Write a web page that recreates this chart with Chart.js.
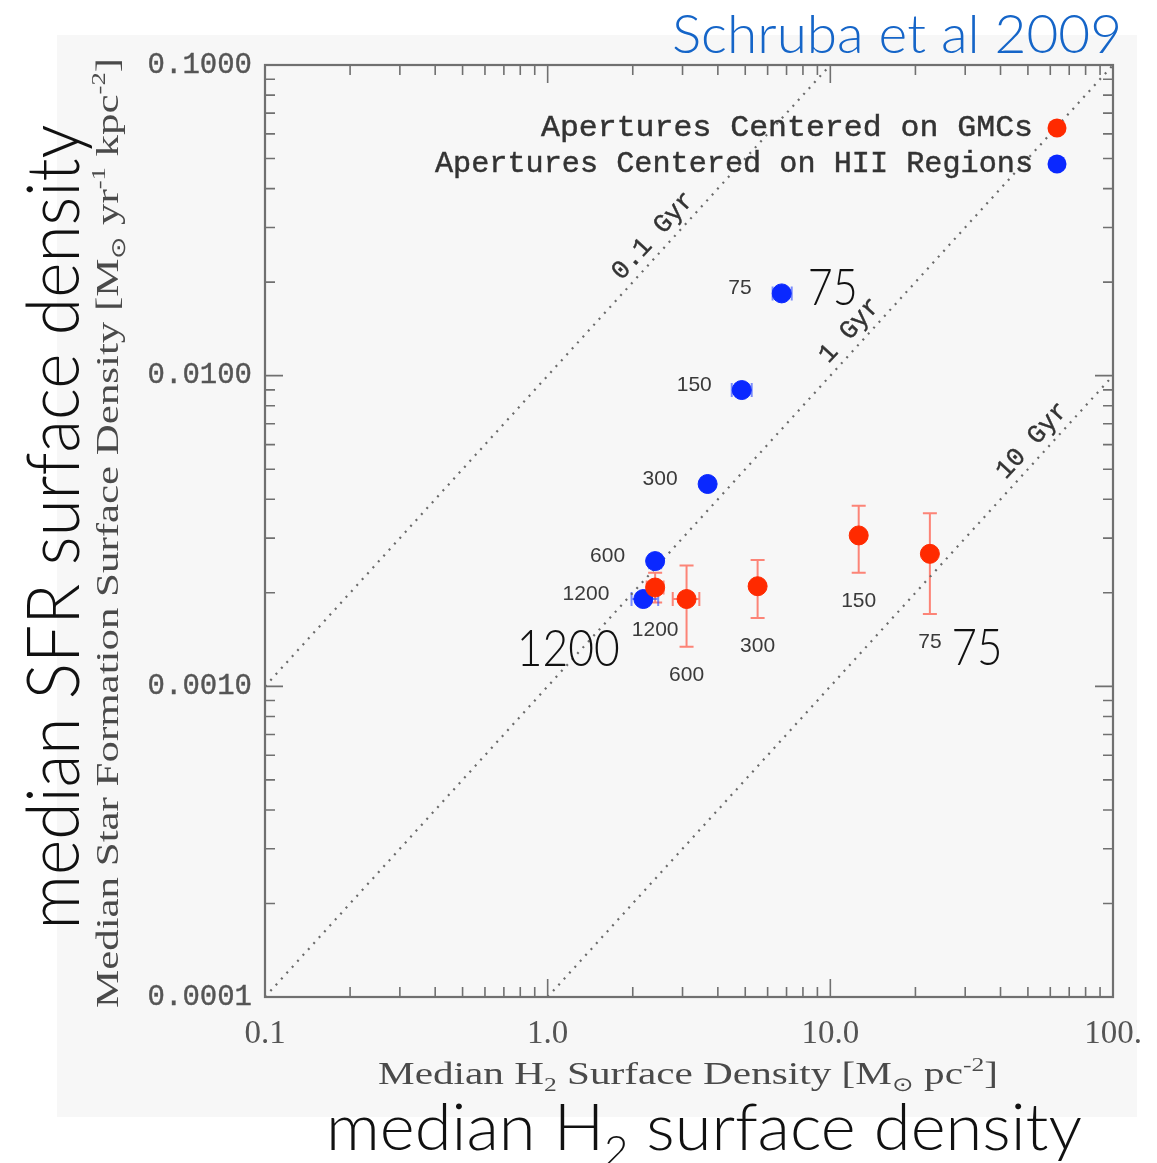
<!DOCTYPE html>
<html>
<head>
<meta charset="utf-8">
<title>Schruba et al 2009</title>
<script src="https://cdn.jsdelivr.net/npm/chart.js@4.4.1/dist/chart.umd.min.js"></script>
<style>
  html, body { margin: 0; padding: 0; background: #fff; }
  #wrap { width: 1157px; height: 1163px; }
</style>
</head>
<body>
<div id="wrap"><canvas id="sfrChart" width="1157" height="1163"></canvas></div>
<script>
// apertures centred on GMCs: aperture size (pc), median H2 and SFR surface densities, error bars
const gmcSizes = ['1200', '600', '300', '150', '75'];
const gmcH2 = [2.40, 3.10, 5.53, 12.6, 22.5];
const gmcSFR = [0.00208, 0.00191, 0.00210, 0.00306, 0.00267];
const gmcSFRLow = [0.00186, 0.00134, 0.00166, 0.00232, 0.00171];
const gmcSFRHigh = [0.00232, 0.00245, 0.00255, 0.00381, 0.00361];
const gmcH2Low = [2.24, 2.77, null, null, null];
const gmcH2High = [2.57, 3.44, null, null, null];

// apertures centred on HII regions
const hiiSizes = ['75', '150', '300', '600', '1200'];
const hiiH2 = [6.73, 4.86, 3.68, 2.40, 2.18];
const hiiSFR = [0.0184, 0.00899, 0.00448, 0.00253, 0.00191];
const hiiSFRLow = [null, null, null, 0.00240, null];
const hiiSFRHigh = [null, null, null, 0.00265, null];
const hiiH2Low = [6.25, 4.48, null, null, 1.98];
const hiiH2High = [7.30, 5.27, null, null, 2.46];

// lines of constant depletion time
const gyrLabels = ['0.1 Gyr', '1 Gyr', '10 Gyr'];
const gyrLineH2 = [[0.1, 10], [0.1, 100], [1, 100]];
const gyrLineSFR = [[0.001, 0.1], [0.0001, 0.1], [0.0001, 0.01]];

// axis ticks
const xTickValues = [0.1, 1, 10, 100];
const xTickLabels = ['0.1', '1.0', '10.0', '100.'];
const yTickValues = [0.0001, 0.001, 0.01, 0.1];
const yTickLabels = ['0.0001', '0.0010', '0.0100', '0.1000'];

const RED = '#ff2a00';
const BLUE = '#0a28ff';

// draws a line of text made of runs (normal / sub / sup), squeezed to a given width
function richText(ctx, runs, cx, baseY, targetW, size, family, color, weight) {
  weight = weight || 'normal';
  const parts = runs.map(r => {
    const s = (r.sub || r.sup) ? size * 0.62 : size;
    ctx.font = weight + ' ' + s + 'px ' + family;
    return { t: r.t, s: s, dy: r.sub ? size * 0.22 : (r.sup ? -size * 0.42 : 0), w: ctx.measureText(r.t).width };
  });
  const total = parts.reduce((a, p) => a + p.w, 0);
  const sx = targetW ? targetW / total : 1;
  ctx.save();
  ctx.translate(cx, baseY);
  ctx.scale(sx, 1);
  ctx.fillStyle = color;
  ctx.textAlign = 'left';
  ctx.textBaseline = 'alphabetic';
  let x = -total / 2;
  parts.forEach(p => {
    ctx.font = weight + ' ' + p.s + 'px ' + family;
    ctx.fillText(p.t, x, p.dy);
    x += p.w;
  });
  ctx.restore();
}

// typewriter text with a slightly heavier stroke
function heavyText(ctx, text, x, y) {
  ctx.fillText(text, x, y);
  ctx.strokeText(text, x, y);
}

// background: white page with a light grey panel
const panel = {
  id: 'panel',
  beforeDraw(chart) {
    const ctx = chart.ctx;
    ctx.save();
    ctx.fillStyle = '#ffffff';
    ctx.fillRect(0, 0, chart.width, chart.height);
    ctx.fillStyle = '#f7f7f7';
    ctx.fillRect(57, 35, 1080, 1082);
    ctx.restore();
  }
};

// error bars, drawn below the points
const errorBars = {
  id: 'errorBars',
  beforeDatasetsDraw(chart) {
    const { ctx, scales: { x, y } } = chart;
    const cap = 7;
    function draw(xs, ys, xLo, xHi, yLo, yHi, color) {
      ctx.strokeStyle = color;
      ctx.lineWidth = 2;
      xs.forEach((v, i) => {
        const px = x.getPixelForValue(v);
        const py = y.getPixelForValue(ys[i]);
        ctx.beginPath();
        if (yLo[i] != null) {
          const a = y.getPixelForValue(yLo[i]);
          const b = y.getPixelForValue(yHi[i]);
          ctx.moveTo(px, a); ctx.lineTo(px, b);
          ctx.moveTo(px - cap, a); ctx.lineTo(px + cap, a);
          ctx.moveTo(px - cap, b); ctx.lineTo(px + cap, b);
        }
        if (xLo[i] != null) {
          const a = x.getPixelForValue(xLo[i]);
          const b = x.getPixelForValue(xHi[i]);
          ctx.moveTo(a, py); ctx.lineTo(b, py);
          ctx.moveTo(a, py - cap); ctx.lineTo(a, py + cap);
          ctx.moveTo(b, py - cap); ctx.lineTo(b, py + cap);
        }
        ctx.stroke();
      });
    }
    ctx.save();
    draw(gmcH2, gmcSFR, gmcH2Low, gmcH2High, gmcSFRLow, gmcSFRHigh, 'rgba(255,70,50,0.65)');
    draw(hiiH2, hiiSFR, hiiH2Low, hiiH2High, hiiSFRLow, hiiSFRHigh, 'rgba(40,70,255,0.6)');
    ctx.restore();
  }
};

// IDL style frame with inward ticks on all four sides
const frame = {
  id: 'frame',
  afterDatasetsDraw(chart) {
    const { ctx, chartArea: a, scales: { x, y } } = chart;
    const majorLen = 18, minorLen = 10;
    ctx.save();
    ctx.strokeStyle = '#707070';
    ctx.lineWidth = 1.6;
    ctx.beginPath();
    for (let e = -1; e <= 2; e++) {
      for (let m = 1; m <= (e < 2 ? 9 : 1); m++) {
        const px = x.getPixelForValue(m * Math.pow(10, e));
        const len = m === 1 ? majorLen : minorLen;
        ctx.moveTo(px, a.bottom); ctx.lineTo(px, a.bottom - len);
        ctx.moveTo(px, a.top); ctx.lineTo(px, a.top + len);
      }
    }
    for (let e = -4; e <= -1; e++) {
      for (let m = 1; m <= (e < -1 ? 9 : 1); m++) {
        const py = y.getPixelForValue(m * Math.pow(10, e));
        const len = m === 1 ? majorLen : minorLen;
        ctx.moveTo(a.left, py); ctx.lineTo(a.left + len, py);
        ctx.moveTo(a.right, py); ctx.lineTo(a.right - len, py);
      }
    }
    ctx.stroke();
    ctx.lineWidth = 2.2;
    ctx.strokeRect(a.left, a.top, a.right - a.left, a.bottom - a.top);
    ctx.restore();
  }
};

// text: legend, aperture sizes, depletion-time labels, axis titles, headline
const annotations = {
  id: 'annotations',
  afterDraw(chart) {
    const { ctx, chartArea: a, scales: { x, y } } = chart;
    ctx.save();

    // legend, markers to the right of the text
    ctx.font = '30px "Liberation Mono"';
    ctx.textAlign = 'right';
    ctx.textBaseline = 'middle';
    ctx.lineWidth = 0.45;
    [[chart.data.datasets[0], RED, 128, 492], [chart.data.datasets[1], BLUE, 164, 598]].forEach(([ds, col, ly, w]) => {
      ctx.fillStyle = '#333';
      ctx.strokeStyle = '#333';
      const sx = w / ctx.measureText(ds.label).width;
      ctx.save();
      ctx.translate(a.right - 80, ly);
      ctx.scale(sx, 1);
      heavyText(ctx, ds.label, 0, 0);
      ctx.restore();
      ctx.fillStyle = col;
      ctx.beginPath();
      ctx.arc(a.right - 56, ly, 9.5, 0, Math.PI * 2);
      ctx.fill();
    });

    // aperture sizes next to the points
    ctx.font = '21px "Liberation Sans"';
    ctx.fillStyle = '#3a3a3a';
    ctx.textBaseline = 'middle';
    ctx.textAlign = 'right';
    hiiSizes.forEach((s, i) => {
      const px = x.getPixelForValue(hiiH2[i]);
      const py = y.getPixelForValue(hiiSFR[i]);
      ctx.fillText(s, px - (i === 4 ? 34 : 30), py - 5);
    });
    ctx.textAlign = 'center';
    gmcSizes.forEach((s, i) => {
      const px = x.getPixelForValue(gmcH2[i]);
      const pb = y.getPixelForValue(gmcSFRLow[i]);
      ctx.fillText(s, px, pb + 28);
    });

    // large labels for the smallest and largest apertures
    const bigFont = 'Lato';
    const b75 = [x.getPixelForValue(hiiH2[0]), y.getPixelForValue(hiiSFR[0])];
    richText(ctx, [{ t: '75' }], b75[0] + 51, b75[1] + 12, 50, 52, bigFont, '#111', '300');
    const r1200 = [x.getPixelForValue(gmcH2[0]), y.getPixelForValue(gmcSFR[0])];
    richText(ctx, [{ t: '1200' }], r1200[0] - 87, r1200[1] + 78, 103, 52, bigFont, '#111', '300');
    const r75 = [x.getPixelForValue(gmcH2[4]), y.getPixelForValue(gmcSFRLow[4])];
    richText(ctx, [{ t: '75' }], r75[0] + 47, r75[1] + 51, 51, 52, bigFont, '#111', '300');

    // depletion-time labels along the dotted lines
    const gyrLabelH2 = [2.6, 12.9, 57];
    ctx.font = '26px "Liberation Mono"';
    ctx.fillStyle = '#333';
    ctx.strokeStyle = '#333';
    ctx.lineWidth = 0.45;
    ctx.textAlign = 'center';
    ctx.textBaseline = 'middle';
    gyrLabels.forEach((lab, i) => {
      const x1 = x.getPixelForValue(gyrLineH2[i][0]), y1 = y.getPixelForValue(gyrLineSFR[i][0]);
      const x2 = x.getPixelForValue(gyrLineH2[i][1]), y2 = y.getPixelForValue(gyrLineSFR[i][1]);
      const px = x.getPixelForValue(gyrLabelH2[i]);
      const py = y1 + (y2 - y1) * (px - x1) / (x2 - x1);
      ctx.save();
      ctx.translate(px, py);
      ctx.rotate(Math.atan2(y2 - y1, x2 - x1));
      heavyText(ctx, lab, 0, -16);
      ctx.restore();
    });

    // axis titles of the original figure
    richText(ctx, [{ t: 'Median H' }, { t: '2', sub: true }, { t: ' Surface Density [M' }, { t: '\u2299', sub: true },
      { t: ' pc' }, { t: '-2', sup: true }, { t: ']' }], 688, 1084, 620, 32, '"Liberation Serif"', '#4a4a4a');
    ctx.save();
    ctx.translate(118, 533);
    ctx.rotate(-Math.PI / 2);
    richText(ctx, [{ t: 'Median Star Formation Surface Density [M' }, { t: '\u2299', sub: true }, { t: ' yr' },
      { t: '-1', sup: true }, { t: ' kpc' }, { t: '-2', sup: true }, { t: ']' }], 0, 0, 950, 32, '"Liberation Serif"', '#4a4a4a');
    ctx.restore();

    // large plain-language axis titles
    ctx.save();
    ctx.translate(79, 527);
    ctx.rotate(-Math.PI / 2);
    richText(ctx, [{ t: 'median SFR surface density' }], 0, 0, 805, 72, bigFont, '#111', '300');
    ctx.restore();
    richText(ctx, [{ t: 'median H' }, { t: '2', sub: true }, { t: ' surface density' }], 704, 1150, 756, 66, bigFont, '#111', '300');

    // headline
    richText(ctx, [{ t: 'Schruba et al 2009' }], 897, 53, 450, 53, bigFont, '#1565c8', '300');

    ctx.restore();
  }
};

new Chart(document.getElementById('sfrChart'), {
  type: 'scatter',
  data: {
    datasets: [
      {
        label: 'Apertures Centered on GMCs',
        data: gmcH2.map((v, i) => ({ x: v, y: gmcSFR[i] })),
        backgroundColor: RED,
        borderColor: RED,
        pointRadius: 9.5,
        pointHoverRadius: 9.5
      },
      {
        label: 'Apertures Centered on HII Regions',
        data: hiiH2.map((v, i) => ({ x: v, y: hiiSFR[i] })),
        backgroundColor: BLUE,
        borderColor: BLUE,
        pointRadius: 9.5,
        pointHoverRadius: 9.5
      },
      ...gyrLabels.map((lab, i) => ({
        label: lab,
        data: gyrLineH2[i].map((v, j) => ({ x: v, y: gyrLineSFR[i][j] })),
        showLine: true,
        pointRadius: 0,
        borderColor: '#6a6a6a',
        borderWidth: 2.2,
        borderDash: [2, 6],
        fill: false
      }))
    ]
  },
  options: {
    responsive: false,
    animation: false,
    devicePixelRatio: 1,
    layout: { padding: { top: 65, right: 44, left: 0, bottom: 0 } },
    plugins: { legend: { display: false }, tooltip: { enabled: false }, title: { display: false } },
    scales: {
      x: {
        type: 'logarithmic',
        min: 0.1,
        max: 100,
        // invisible tick marks only reserve the gap above the labels
        grid: { display: true, drawOnChartArea: false, drawTicks: true, tickLength: 16, tickColor: 'rgba(0,0,0,0)' },
        border: { display: false },
        afterBuildTicks: s => { s.ticks = xTickValues.map(v => ({ value: v })); },
        afterFit: s => { s.height = 166; },
        ticks: {
          autoSkip: false,
          maxRotation: 0,
          padding: 2,
          color: '#555',
          font: { family: '"Liberation Serif"', size: 33 },
          callback: v => xTickLabels[xTickValues.indexOf(v)] ?? ''
        }
      },
      y: {
        type: 'logarithmic',
        min: 0.0001,
        max: 0.1,
        grid: { display: false, drawTicks: false },
        border: { display: false },
        afterBuildTicks: s => { s.ticks = yTickValues.map(v => ({ value: v })); },
        afterFit: s => { s.width = 265; },
        ticks: {
          autoSkip: false,
          padding: 13,
          color: '#555',
          textStrokeColor: '#555',
          textStrokeWidth: 0.4,
          font: { family: '"Liberation Mono"', size: 29 },
          callback: v => yTickLabels[yTickValues.indexOf(v)] ?? ''
        }
      }
    }
  },
  plugins: [panel, errorBars, frame, annotations]
});
</script>
</body>
</html>
